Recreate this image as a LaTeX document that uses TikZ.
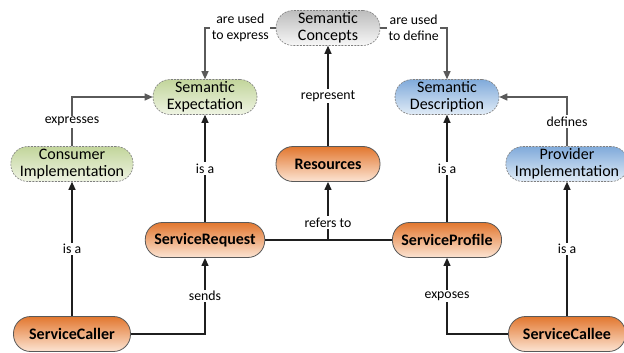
\documentclass[tikz,border=0pt]{standalone}
\usepackage{fontspec}
\setmainfont{Carlito}
\usepackage{tikz}
\usetikzlibrary{arrows.meta, positioning, calc}

\definecolor{colGreenTop} {HTML}{C2D59B}
\definecolor{colGreenBot} {HTML}{EFF4E3}
\definecolor{colBlueTop}  {HTML}{80AADA}
\definecolor{colBlueBot}  {HTML}{E1ECF7}
\definecolor{colGrayTop}  {HTML}{BDBDBD}
\definecolor{colGrayBot}  {HTML}{F7F7F7}
\definecolor{colOrangeTop}{HTML}{E2772F}
\definecolor{colOrangeBot}{HTML}{FCE4D3}
\definecolor{colBorder}   {HTML}{595959}
\definecolor{colDash}     {HTML}{7F7F7F}
\definecolor{colLine}     {HTML}{1F1F1F}
\definecolor{colSoftLine} {HTML}{5A5A5A}
\tikzset{
  concept/.style={
    rounded corners=17pt,
    minimum width=104pt, minimum height=35pt,
    align=center, inner xsep=9pt, inner ysep=1pt,
    font=\fontsize{16}{17}\selectfont
  },
  softbox/.style={
    concept, draw=colDash, line width=0.6pt,
    dash pattern=on 2pt off 1.2pt
  },
  greenbox/.style ={softbox, top color=colGreenTop,  bottom color=colGreenBot},
  bluebox/.style  ={softbox, top color=colBlueTop,   bottom color=colBlueBot},
  graybox/.style  ={softbox, top color=colGrayTop,   bottom color=colGrayBot},
  orangebox/.style={
    concept, draw=colBorder, line width=0.8pt,
    top color=colOrangeTop, bottom color=colOrangeBot,
    font=\fontsize{16}{17}\selectfont\bfseries
  },
  % connectors
  darrow/.style={
    -{Triangle[length=8pt,width=7pt]},
    line width=1.2pt, draw=colLine
  },
  sarrow/.style={
    -{Triangle[length=8pt,width=7pt]},
    line width=1.2pt, draw=colSoftLine
  },
  dline/.style={line width=1.2pt, draw=colLine},
  lbl/.style={
    fill=white, inner sep=1.5pt, align=center,
    font=\fontsize{13.8}{16.5}\selectfont
  }
}

\begin{document}
\begin{tikzpicture}[
          x=1pt, y=-1pt,
          on grid
      ]
        \useasboundingbox (0,0) rectangle (624,353);

        %% ── Top: shared concepts ──────────────────────────────────────
        \node[graybox] (concepts) at (328,28) {Semantic\\Concepts};

        \node[greenbox, below left=69pt and 123pt of concepts] (expect)
          {Semantic\\Expectation};
        \node[bluebox, below right=69pt and 119pt of concepts] (descr)
          {Semantic\\Description};

        %% ── Middle row: implementations and resources ─────────────────
        \node[orangebox, below=136pt of concepts] (res) {Resources};

        \node[greenbox, below left=67pt and 133pt of expect] (consumer)
          {Consumer\\Implementation};
        \node[bluebox, below right=67pt and 120pt of descr] (provider)
          {Provider\\Implementation};

        %% ── Request / profile ─────────────────────────────────────────
        \node[orangebox, below=143pt of expect] (request) {ServiceRequest};
        \node[orangebox, below=143pt of descr]  (profile) {ServiceProfile};

        %% ── Bottom: caller and callee ─────────────────────────────────
        \node[orangebox, minimum width=117pt, below=170pt of consumer] (caller)
          {ServiceCaller};
        \node[orangebox, minimum width=117pt, below=170pt of provider] (callee)
          {ServiceCallee};

        %% ── Concept arrows ────────────────────────────────────────────
        \draw[sarrow] (concepts.west) -| node[lbl, pos=0.25] {are used\\to express} (expect.north);
        \draw[sarrow] (concepts.east) -| node[lbl, pos=0.25] {are used\\to define} (descr.north);
        \draw[sarrow] (consumer.north) |- node[lbl, pos=0.25] {expresses} (expect.west);
        \draw[sarrow] (provider.north) |- node[lbl, pos=0.25] {defines} (descr.east);

        %% ── Main arrows ───────────────────────────────────────────────
        \draw[darrow] (res.north) -- node[lbl] {represent} (concepts.south);
        \draw[darrow] (request.north) -- node[lbl] {is a} (expect.south);
        \draw[darrow] (profile.north) -- node[lbl] {is a} (descr.south);
        \draw[darrow] (caller.north) -- node[lbl] {is a} (consumer.south);
        \draw[darrow] (callee.north) -- node[lbl] {is a} (provider.south);
        \draw[darrow] (caller.east) -| node[lbl, pos=0.75] {sends} (request.south);
        \draw[darrow] (callee.west) -| node[lbl, pos=0.75] {exposes} (profile.south);

        % request and profile both point at the resources
        \coordinate (refjoin) at (request.east -| res.south);
        \draw[dline] (request.east) -- (profile.west);
        \draw[darrow] (refjoin) -- node[lbl, pos=0.3] {refers to} (res.south);

      \end{tikzpicture}
\end{document}
